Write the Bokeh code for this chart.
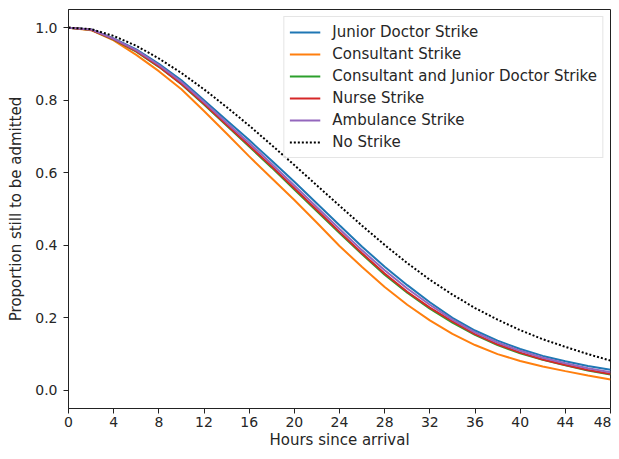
from bokeh.plotting import figure
from bokeh.models import FixedTicker, PrintfTickFormatter, Range1d, Legend, LegendItem
from bokeh.embed import file_html
from bokeh.resources import INLINE

hours = [0, 2, 4, 6, 8, 10, 12, 14, 16, 18, 20, 22, 24, 26, 28, 30, 32, 34, 36, 38, 40, 42, 44, 46, 48]

junior_doctor = [1.0, 0.995, 0.970, 0.940, 0.900, 0.855, 0.800, 0.745, 0.690, 0.633, 0.575, 0.515, 0.455, 0.396, 0.341, 0.290, 0.243, 0.200, 0.165, 0.137, 0.114, 0.095, 0.080, 0.067, 0.057]
consultant = [1.0, 0.993, 0.965, 0.925, 0.880, 0.830, 0.770, 0.708, 0.645, 0.585, 0.525, 0.462, 0.398, 0.340, 0.285, 0.236, 0.193, 0.156, 0.125, 0.100, 0.081, 0.066, 0.053, 0.041, 0.030]
consultant_and_junior = [1.0, 0.994, 0.967, 0.934, 0.892, 0.844, 0.788, 0.730, 0.672, 0.614, 0.554, 0.494, 0.434, 0.375, 0.319, 0.269, 0.225, 0.187, 0.153, 0.125, 0.102, 0.084, 0.069, 0.055, 0.044]
nurse = [1.0, 0.994, 0.968, 0.935, 0.893, 0.845, 0.790, 0.732, 0.675, 0.617, 0.557, 0.497, 0.437, 0.378, 0.322, 0.272, 0.228, 0.190, 0.155, 0.127, 0.104, 0.085, 0.070, 0.056, 0.045]
ambulance = [1.0, 0.995, 0.969, 0.938, 0.897, 0.850, 0.795, 0.738, 0.682, 0.624, 0.565, 0.505, 0.445, 0.386, 0.331, 0.281, 0.236, 0.195, 0.160, 0.132, 0.109, 0.090, 0.075, 0.061, 0.050]
no_strike = [1.0, 0.996, 0.977, 0.950, 0.915, 0.875, 0.830, 0.781, 0.730, 0.676, 0.621, 0.565, 0.509, 0.454, 0.401, 0.351, 0.305, 0.264, 0.227, 0.195, 0.166, 0.141, 0.120, 0.100, 0.082]

series_names = ["Junior Doctor Strike", "Consultant Strike", "Consultant and Junior Doctor Strike",
                "Nurse Strike", "Ambulance Strike", "No Strike"]
series_values = [junior_doctor, consultant, consultant_and_junior, nurse, ambulance, no_strike]
series_colors = ["#1f77b4", "#ff7f0e", "#2ca02c", "#d62728", "#9467bd", "#000000"]

x_ticks = [0, 4, 8, 12, 16, 20, 24, 28, 32, 36, 40, 44, 48]
y_ticks = [0.0, 0.2, 0.4, 0.6, 0.8, 1.0]
x_label = "Hours since arrival"
y_label = "Proportion still to be admitted"

FONT = "DejaVu Sans"
TXT = "#262626"
SPINE = "#222222"

p = figure(width=611, height=451, output_backend="svg", toolbar_location=None,
           x_range=Range1d(0, 48), y_range=Range1d(-0.05, 1.05),
           min_border_left=68, min_border_right=1, min_border_top=9, min_border_bottom=0)

p.xgrid.visible = False
p.ygrid.visible = False
p.outline_line_color = SPINE
p.outline_line_width = 1
p.background_fill_color = "white"
p.border_fill_color = "white"

items = []
for name, vals, col in zip(series_names, series_values, series_colors):
    if name == "No Strike":
        r = p.line(hours, vals, line_color=col, line_width=2, line_dash="2 2")
    else:
        r = p.line(hours, vals, line_color=col, line_width=2)
    items.append(LegendItem(label=name, renderers=[r]))

for ax in (p.xaxis[0], p.yaxis[0]):
    ax.major_label_text_font = FONT
    ax.major_label_text_font_size = "14px"
    ax.major_label_text_color = TXT
    ax.axis_label_text_font = FONT
    ax.axis_label_text_font_size = "15px"
    ax.axis_label_text_font_style = "normal"
    ax.axis_label_text_color = TXT
    ax.minor_tick_line_color = None
    ax.major_tick_out = 5
    ax.major_tick_in = 0
    ax.axis_line_color = SPINE
    ax.major_tick_line_color = SPINE

p.xaxis.ticker = FixedTicker(ticks=x_ticks)
p.yaxis.ticker = FixedTicker(ticks=y_ticks)
p.yaxis.formatter = PrintfTickFormatter(format="%.1f")
p.xaxis.axis_label = x_label
p.yaxis.axis_label = y_label
p.xaxis.major_label_standoff = 3
p.xaxis.axis_label_standoff = 1
p.yaxis.major_label_standoff = 6
p.yaxis.axis_label_standoff = 7

legend = Legend(items=items, location="top_right")
legend.label_text_font = FONT
legend.label_text_font_size = "15px"
legend.label_text_color = TXT
legend.glyph_width = 31
legend.glyph_height = 20
legend.label_height = 20
legend.spacing = 2
legend.padding = 5
legend.margin = 7
legend.label_standoff = 12
legend.border_line_color = "#cccccc"
legend.border_line_width = 1
legend.background_fill_alpha = 0.85
p.add_layout(legend)

open("out.html", "w").write(file_html(p, INLINE))
